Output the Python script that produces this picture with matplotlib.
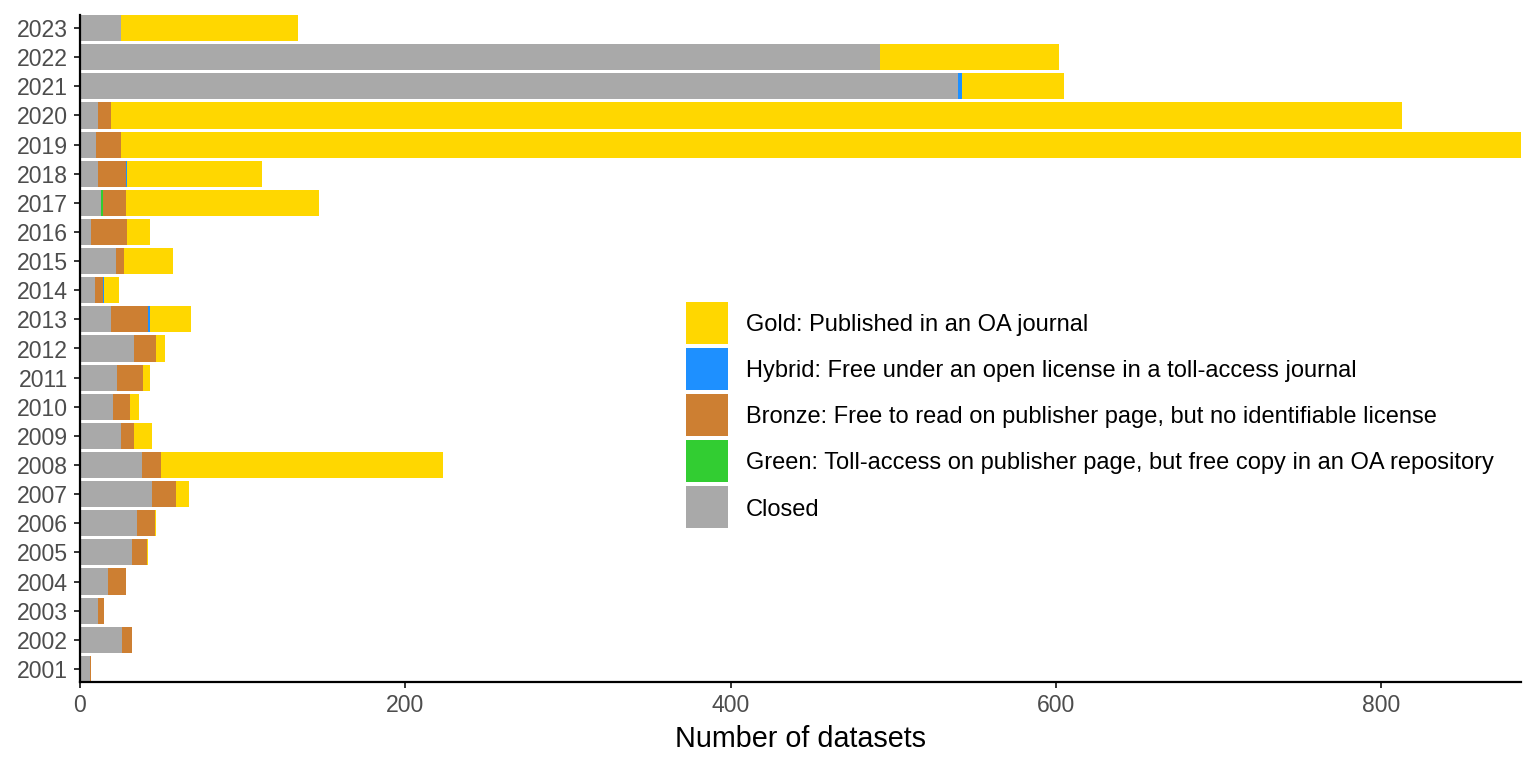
import numpy as np
import matplotlib
matplotlib.use("Agg")
import matplotlib.pyplot as plt
from matplotlib.patches import Rectangle

# Open access status of datasets per year (counts)
years = list(range(2001, 2024))

closed = [6, 26, 11, 17, 32, 35, 44, 38, 25, 20, 23, 33, 19,
          9, 22, 7, 13, 11, 10, 11, 540, 492, 25]
green = [0, 0, 0, 0, 0, 0, 0, 0, 0, 0, 0, 0, 0,
         0, 0, 0, 1, 0, 0, 0, 0, 0, 0]
bronze = [1, 6, 4, 11, 9, 11, 15, 12, 8, 11, 16, 14, 23,
          5, 5, 22, 14, 17, 15, 8, 0, 0, 0]
hybrid = [0, 0, 0, 0, 0, 0, 0, 0, 0, 0, 0, 0, 1,
          1, 0, 0, 0, 1, 0, 0, 2, 0, 0]
gold = [0, 0, 0, 0, 1, 1, 8, 173, 11, 5, 4, 5, 25,
        9, 30, 14, 119, 83, 861, 794, 63, 110, 109]

x_ticks = [0, 200, 400, 600, 800]

# stacking order from the axis outwards, legend shows it reversed
series = [
    ("Closed", closed, "#A9A9A9"),
    ("Green: Toll-access on publisher page, but free copy in an OA repository", green, "#32CD32"),
    ("Bronze: Free to read on publisher page, but no identifiable license", bronze, "#CD7F32"),
    ("Hybrid: Free under an open license in a toll-access journal", hybrid, "#1E90FF"),
    ("Gold: Published in an OA journal", gold, "#FFD700"),
]

W, H, DPI = 1536, 768, 100
tick_size = 16.6
legend_size = 17

plt.rcParams.update({
    "font.family": ["Liberation Sans", "DejaVu Sans"],
    "font.size": tick_size,
})

fig = plt.figure(figsize=(W / DPI, H / DPI), dpi=DPI)
ax = fig.add_axes([80 / W, (H - 682) / H, (1521 - 80) / W, (682 - 15) / H])

ypos = np.arange(1, len(years) + 1)
left = np.zeros(len(years))
for name, vals, color in series:
    vals = np.array(vals, dtype=float)
    ax.barh(ypos, vals, left=left, height=0.9, color=color, linewidth=0)
    left += vals

ax.set_xlim(0, left.max())
ax.set_ylim(0.55, len(years) + 0.45)
ax.set_yticks(ypos)
ax.set_yticklabels([str(y) for y in years])
ax.set_xticks(x_ticks)

for side in ("top", "right"):
    ax.spines[side].set_visible(False)
for side in ("left", "bottom"):
    ax.spines[side].set_linewidth(1.6)
    ax.spines[side].set_color("black")

ax.tick_params(axis="both", length=4.5, width=1.4, color="#333333",
               labelcolor="#4d4d4d", labelsize=tick_size, pad=4)
ax.set_xlabel("Number of datasets", fontsize=20.7, color="black", labelpad=6)

# legend drawn by hand: 42px keys, 4px apart, like the ggplot guide
key_x, key_top, key_size, key_gap = 686, 302, 42, 4
for i, (name, _, color) in enumerate(reversed(series)):
    top = key_top + i * (key_size + key_gap)
    fig.patches.append(Rectangle((key_x / W, (H - top - key_size) / H),
                                 key_size / W, key_size / H,
                                 transform=fig.transFigure, facecolor=color,
                                 edgecolor="none"))
    fig.text(746 / W, (H - top - key_size / 2) / H, name, fontsize=legend_size,
             ha="left", va="center_baseline", color="black")

fig.savefig("out.png", dpi=DPI)
plt.close(fig)
